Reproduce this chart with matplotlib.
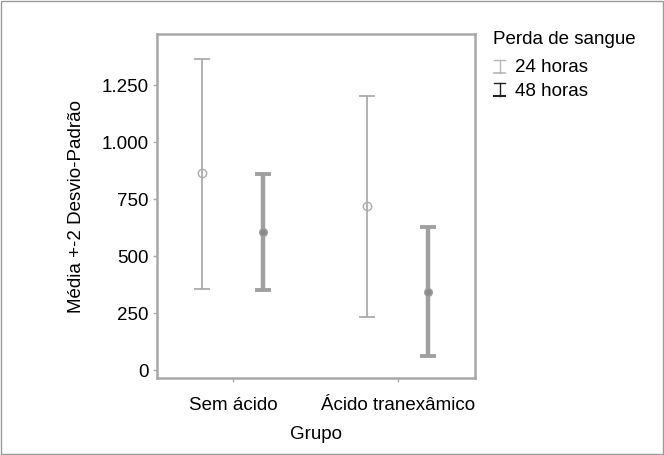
import matplotlib.pyplot as plt
from matplotlib.lines import Line2D
from matplotlib.patches import Rectangle
import numpy as np

plt.rcParams['font.family'] = ['Liberation Sans', 'DejaVu Sans']

groups = ["Sem ácido", "Ácido tranexâmico"]
series = ["24 horas", "48 horas"]
mean_24h = [864, 719]
low_24h = [355, 232]
high_24h = [1364, 1202]
mean_48h = [605, 344]
low_48h = [351, 61]
high_48h = [860, 627]

FS = 13.5

fig = plt.figure(figsize=(6.64, 4.55), dpi=100)
ax = fig.add_axes([157 / 664, 1 - 378 / 455, 318 / 664, 344 / 455])

x = np.arange(len(groups))
off = 0.185


def draw_bars(xpos, mean, low, high, color, lw, capw, ms, mfc):
    mean = np.array(mean)
    yerr = [mean - np.array(low), np.array(high) - mean]
    ax.errorbar(xpos, mean, yerr=yerr, fmt='none', ecolor=color,
                elinewidth=lw, capsize=6, capthick=capw)
    ax.plot(xpos, mean, linestyle='none', marker='o', markersize=ms,
            markerfacecolor=mfc, markeredgecolor=color, markeredgewidth=1)


draw_bars(x - off, mean_24h, low_24h, high_24h, '#ababab', 1.3, 1.3, 6, 'none')
draw_bars(x + off, mean_48h, low_48h, high_48h, '#a0a0a0', 3.2, 2.8, 5.5, '#8a8a8a')

ax.set_xlim(-0.46, 1.467)
ax.set_ylim(-35, 1474)
ax.set_xticks(x)
ax.set_xticklabels(groups, fontsize=FS)
yt = [0, 250, 500, 750, 1000, 1250]
ax.set_yticks(yt)
ax.set_yticklabels(["0", "250", "500", "750", "1.000", "1.250"], fontsize=FS)
ax.tick_params(axis='x', length=3, color='#aaaaaa', width=1, pad=11)
ax.tick_params(axis='y', length=3, color='#aaaaaa', width=1, pad=3)
for s in ax.spines.values():
    s.set_color('#a8a8a8')
    s.set_linewidth(1.8)
ax.set_xlabel("Grupo", fontsize=FS, labelpad=8)
ax.set_ylabel("Média +-2 Desvio-Padrão", fontsize=FS, labelpad=12)

# legend drawn in figure pixels
def fx(px):
    return px / 664


def fy(py):
    return 1 - py / 455


fig.text(fx(493), fy(39), "Perda de sangue", fontsize=FS, va='center')
for py, lab, col, blw in [(68, series[0], '#b5b5b5', 1.2), (91, series[1], '#222222', 1.5)]:
    xs = [fx(494), fx(505)]
    xm = fx(499.5)
    top, bot = fy(py - 8), fy(py + 5)
    fig.add_artist(Line2D([xm, xm], [top, bot], color=col, lw=1, transform=fig.transFigure))
    fig.add_artist(Line2D(xs, [top] * 2, color=col, lw=1, transform=fig.transFigure))
    fig.add_artist(Line2D(xs, [bot] * 2, color=col, lw=blw, transform=fig.transFigure))
    fig.text(fx(515), fy(py), lab, fontsize=FS, va='center')

fig.add_artist(Rectangle((0.002, 0.003), 0.996, 0.994, transform=fig.transFigure,
                         fill=False, edgecolor='#9a9a9a', lw=1))

fig.savefig("out.png", dpi=100)
